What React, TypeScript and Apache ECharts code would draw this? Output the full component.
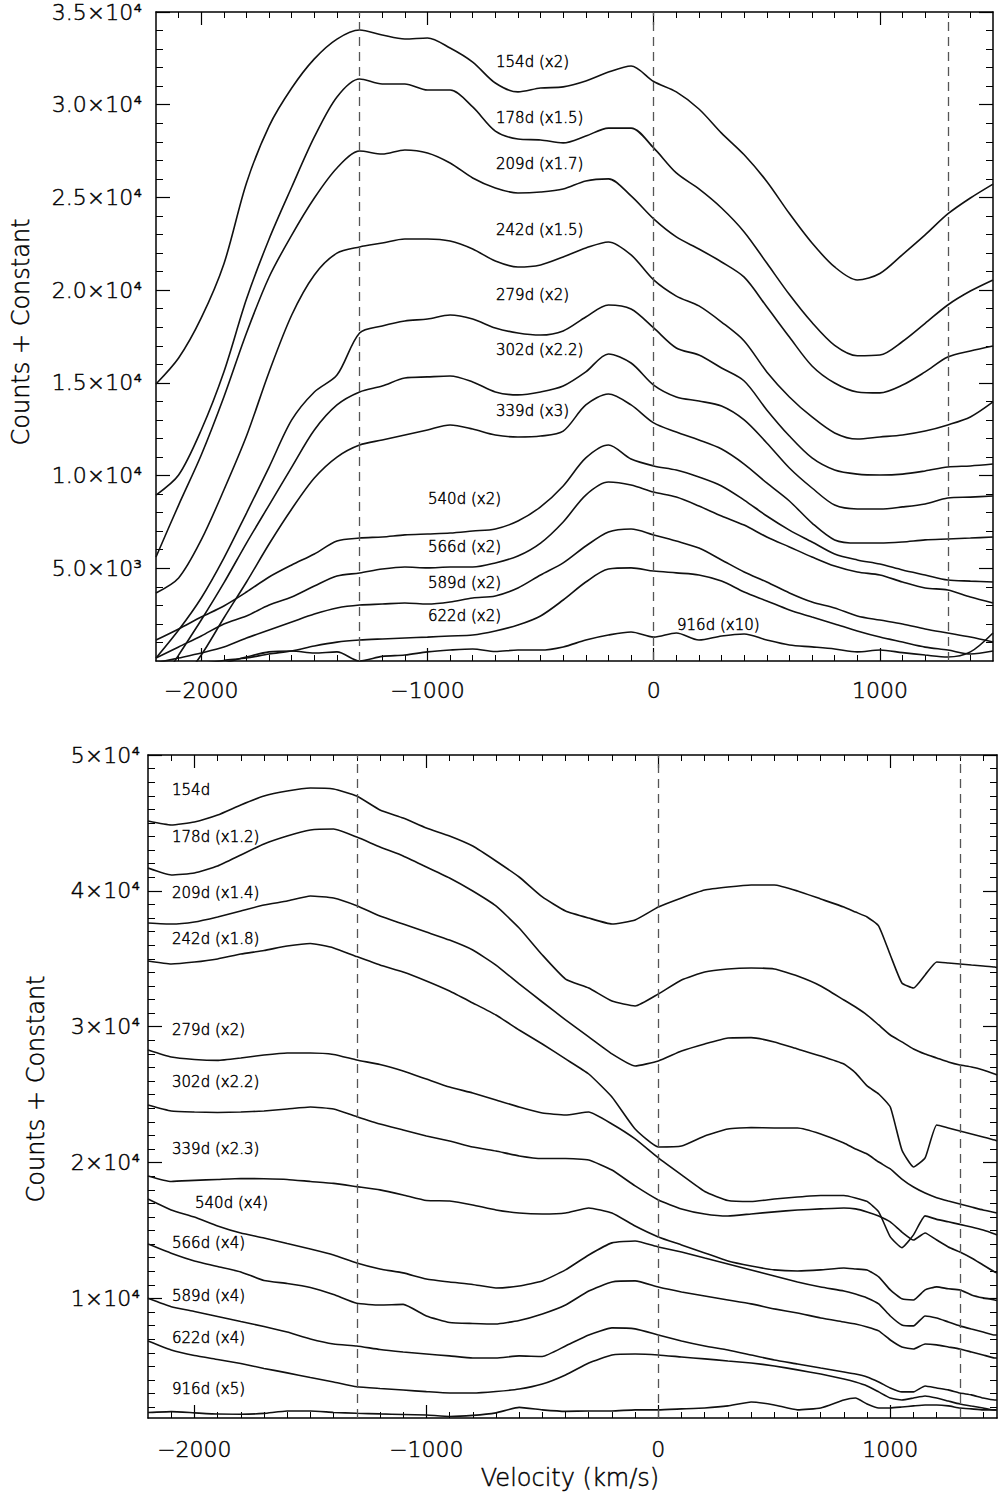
import React, { useEffect, useRef } from "react";
import * as echarts from "echarts";

// ---------- DATA ----------
const velTop = [-2200, -2100, -2000, -1900, -1800, -1700, -1600, -1500, -1400, -1300, -1200, -1100, -1000, -900, -800, -700, -600, -500, -400, -300, -200, -100, 0, 100, 200, 300, 400, 500, 600, 700, 800, 900, 1000, 1100, 1200, 1300, 1400, 1500];

const top154 = [14940, 16340, 18500, 21410, 25780, 28850, 30900, 32470, 33540, 34030, 33760, 33540, 33600, 33060, 32300, 31170, 30690, 30900, 30960, 31280, 31760, 32090, 31250, 30690, 29770, 28470, 27300, 25860, 24130, 22540, 21250, 20550, 20900, 21920, 22980, 24110, 24970, 25720];
const top178 = [8950, 10030, 12460, 15590, 19520, 22760, 25560, 28260, 30420, 31390, 31120, 31120, 30790, 30790, 29880, 28580, 28150, 28100, 27940, 28310, 28740, 28740, 27670, 26320, 25460, 24430, 23140, 21460, 19760, 18250, 17020, 16460, 16500, 17230, 18210, 19200, 19950, 20550];
const top209 = [5610, 8410, 11110, 14240, 17690, 20710, 22970, 24970, 26590, 27500, 27340, 27560, 27400, 26860, 26050, 25510, 25240, 25290, 25450, 25890, 26000, 25080, 23840, 22870, 22220, 21520, 20700, 19100, 17470, 15910, 14990, 14510, 14460, 14880, 15590, 16390, 16720, 16990];
const top242 = [3670, 4480, 6530, 9220, 12130, 15590, 18660, 20820, 22000, 22330, 22540, 22760, 22760, 22650, 22220, 21570, 21250, 21360, 21790, 22270, 22600, 21900, 20550, 19680, 19150, 18280, 17260, 15590, 14240, 13160, 12300, 11970, 12080, 12190, 12400, 12730, 13160, 13970];
const top279 = [160, 1670, 3400, 5550, 7980, 10460, 13000, 14510, 15420, 17690, 18070, 18340, 18440, 18660, 18440, 17960, 17690, 17580, 17800, 18550, 19200, 18980, 17960, 16880, 16500, 15800, 15100, 13540, 12130, 10950, 10300, 10080, 10030, 10080, 10250, 10460, 10520, 10620];
const top302 = [-1560, 320, 2210, 4210, 6360, 8410, 10460, 12460, 13810, 14510, 14830, 15260, 15320, 15370, 15050, 14510, 14350, 14510, 14830, 15590, 16560, 16070, 14880, 14240, 14020, 13750, 13000, 11760, 10410, 9330, 8410, 8200, 8200, 8310, 8470, 8790, 8840, 8900];
const top339 = [-2800, -1290, 320, 2320, 4260, 6310, 8200, 9870, 11000, 11650, 11920, 12190, 12460, 12730, 12510, 12190, 12080, 12130, 12400, 13810, 14400, 13810, 12840, 12350, 11920, 11430, 10620, 9600, 8630, 7440, 6530, 6360, 6360, 6420, 6530, 6580, 6630, 6690];
const top540 = [1130, 1730, 2370, 2970, 3720, 4530, 5180, 5770, 6470, 6630, 6690, 6800, 6850, 6900, 7010, 7120, 7550, 8310, 9440, 10950, 11650, 10890, 10520, 10300, 9920, 9440, 8680, 7820, 7060, 6420, 5770, 5450, 5230, 4910, 4640, 4370, 4310, 4260];
const top566 = [160, 760, 1350, 2000, 2430, 3020, 3450, 4040, 4580, 4750, 4960, 5070, 5020, 5070, 5070, 5290, 5660, 6360, 7500, 8950, 9650, 9490, 9110, 8840, 8360, 7820, 7330, 6690, 6150, 5610, 5120, 4800, 4640, 4260, 3940, 3830, 3450, 3130];
const top589 = [-100, 160, 430, 750, 1240, 1670, 2100, 2530, 2860, 3020, 3070, 3130, 3070, 3180, 3400, 3510, 3940, 4640, 5290, 6200, 6960, 7120, 6800, 6470, 6090, 5450, 4800, 4260, 3670, 3180, 2860, 2430, 2210, 2000, 1730, 1510, 1290, 1020];
const top622 = [-600, -400, -150, 30, 160, 380, 540, 810, 1020, 1130, 1190, 1240, 1290, 1350, 1400, 1620, 1940, 2430, 3290, 4260, 4960, 5020, 4850, 4750, 4640, 4310, 3720, 3240, 2750, 2370, 2000, 1620, 1290, 1020, 750, 590, 380, 540];
const top916 = [-1000, -700, -400, -100, 215, 490, 540, 430, 490, 0, 250, 320, 490, 590, 650, 510, 590, 590, 760, 1130, 1400, 1560, 1290, 1510, 1130, 1350, 1460, 1130, 860, 760, 650, 490, 590, 450, 320, 215, 490, 1510];

const velBottom = [-2200, -2100, -2000, -1900, -1800, -1700, -1600, -1500, -1400, -1300, -1200, -1100, -1000, -900, -800, -700, -600, -500, -400, -300, -200, -100, 0, 100, 200, 300, 400, 500, 600, 700, 800, 850, 900, 950, 1000, 1050, 1100, 1150, 1200, 1250, 1300, 1350, 1400, 1450, 1460];

const bot154 = [45140, 44850, 45070, 45580, 46320, 46980, 47350, 47570, 47500, 46980, 45950, 45360, 44630, 44040, 43300, 42200, 41020, 39550, 38520, 38000, 37560, 37860, 38810, 39480, 40060, 40280, 40430, 40430, 39990, 39400, 38810, 38440, 38080, 37410, 35280, 33220, 32850, 33810, 34760, 34690, 34620, 34540, 34470, 34400, 34360];
const bot178 = [41680, 41170, 41320, 41830, 42640, 43450, 44040, 44480, 44550, 43960, 43230, 42570, 41760, 40950, 39990, 38890, 37270, 35280, 33510, 32850, 31890, 31530, 32410, 33440, 34030, 34250, 34320, 34250, 33730, 33000, 31970, 31450, 30860, 30130, 29390, 28880, 28360, 27990, 27700, 27400, 27180, 27040, 26820, 26520, 26450];
const bot209 = [37640, 37560, 37710, 38080, 38520, 38960, 39250, 39620, 39480, 38910, 38150, 37560, 36970, 36380, 35650, 34540, 33150, 31820, 30500, 29250, 28000, 27110, 27480, 28210, 28730, 29170, 29200, 28880, 28360, 27850, 27260, 26600, 25640, 25050, 24090, 20930, 19680, 20340, 22770, 22550, 22330, 22110, 21890, 21660, 21590];
const bot242 = [34840, 34620, 34760, 34990, 35350, 35610, 35940, 36130, 35800, 35160, 34540, 34030, 33370, 32630, 31750, 30860, 29760, 28730, 27630, 26520, 24830, 22470, 21150, 21220, 21960, 22470, 22580, 22550, 22550, 22110, 21440, 21000, 20630, 20040, 19530, 18790, 18200, 17760, 17420, 17170, 16950, 16730, 16510, 16330, 16290];
const bot279 = [28290, 27770, 27590, 27520, 27700, 27920, 28070, 28070, 27960, 27550, 27220, 26740, 26150, 25560, 25120, 24610, 24090, 23650, 23500, 23720, 22840, 21740, 20340, 19090, 17870, 17210, 17140, 17320, 17470, 17580, 17580, 17400, 17140, 16370, 14530, 13740, 14680, 16080, 15820, 15640, 15450, 15260, 15040, 14750, 14670];
const bot302 = [24240, 23800, 23720, 23690, 23720, 23800, 23940, 24090, 23940, 23380, 22840, 22400, 21960, 21590, 21150, 20850, 20490, 20300, 20300, 20190, 19450, 18280, 17250, 16590, 16220, 16070, 16220, 16370, 16510, 16590, 16660, 16590, 16370, 16070, 15630, 14890, 14300, 14820, 14300, 13790, 13420, 12980, 12460, 11950, 11880];
const bot339 = [19020, 18610, 18690, 18760, 18830, 18810, 18760, 18610, 18470, 18230, 17990, 17620, 17210, 17170, 16880, 16510, 16290, 16220, 16290, 16660, 16290, 15330, 14530, 13940, 13350, 12760, 12390, 12100, 12020, 12100, 12240, 12170, 12100, 11590, 10630, 9970, 9890, 10630, 10850, 10710, 10630, 10260, 10040, 9890, 9850];
const bot540 = [17320, 16510, 15990, 15330, 14810, 14450, 14040, 13640, 13200, 12610, 12170, 11880, 11430, 11210, 11030, 10770, 10920, 11290, 12100, 13200, 14090, 14230, 13790, 13420, 12980, 12540, 12100, 11650, 11210, 10840, 10550, 10330, 10040, 9600, 8710, 8050, 7980, 8710, 8560, 8270, 7980, 7750, 7530, 7310, 7310];
const bot566 = [14000, 13330, 12760, 12350, 11950, 11320, 11100, 10810, 10290, 9640, 9520, 9560, 8710, 8230, 8160, 8120, 8380, 8860, 9520, 10550, 11210, 11290, 10840, 10480, 10180, 9890, 9600, 9230, 8930, 8560, 8270, 8120, 7900, 7610, 6940, 6430, 6280, 6650, 6580, 6430, 6280, 6060, 5840, 5620, 5620];
const bot589 = [10010, 9390, 9040, 8670, 8300, 7940, 7530, 7020, 6650, 6500, 6240, 6060, 5910, 5770, 5620, 5620, 5770, 5730, 6500, 7310, 7830, 7760, 7310, 6870, 6500, 6210, 5840, 5470, 5180, 4880, 4590, 4440, 4220, 3850, 3410, 3120, 3120, 3560, 3410, 3270, 3040, 2900, 2670, 2530, 2530];
const bot622 = [6870, 6210, 5800, 5510, 5210, 4850, 4520, 4180, 3850, 3500, 3370, 3260, 3140, 3040, 3040, 3150, 3330, 3700, 4370, 5250, 5840, 5910, 5840, 5690, 5550, 5400, 5250, 5030, 4740, 4440, 4070, 3850, 3560, 3120, 2670, 2530, 2670, 2820, 2670, 2450, 2230, 2080, 1940, 1790, 1790];
const bot916 = [1600, 1670, 1580, 1490, 1480, 1540, 1720, 1720, 1610, 1550, 1500, 1460, 1420, 1310, 1390, 1580, 1980, 1800, 1690, 1720, 1720, 1800, 1800, 1870, 1940, 2090, 2380, 2160, 1800, 1940, 2530, 2670, 2230, 1940, 1940, 2010, 2090, 2160, 2160, 2090, 1940, 1870, 1800, 1800, 1800];

const topSeries = [top154, top178, top209, top242, top279, top302, top339, top540, top566, top589, top622, top916];
const bottomSeries = [bot154, bot178, bot209, bot242, bot279, bot302, bot339, bot540, bot566, bot589, bot622, bot916];

const topLabels = ["154d (x2)", "178d (x1.5)", "209d (x1.7)", "242d (x1.5)", "279d (x2)", "302d (x2.2)", "339d (x3)", "540d (x2)", "566d (x2)", "589d (x2)", "622d (x2)", "916d (x10)"];
const bottomLabels = ["154d", "178d (x1.2)", "209d (x1.4)", "242d (x1.8)", "279d (x2)", "302d (x2.2)", "339d (x2.3)", "540d (x4)", "566d (x4)", "589d (x4)", "622d (x4)", "916d (x5)"];

const xMajorTicks = [-2000, -1000, 0, 1000];
const topYMajorTicks = [5000, 10000, 15000, 20000, 25000, 30000, 35000];
const bottomYMajorTicks = [10000, 20000, 30000, 40000, 50000];
const dashedVelocities = [-1300, 0, 1300];

// ---------- LAYOUT ----------
const FONT = "'DejaVu Sans', 'Liberation Sans', sans-serif";
const INK = "#000000";
const WEIGHT = 200;
const TEXT_STROKE = 0.45;

const topLabelPos = [[496, 62], [496, 118], [496, 164], [496, 230], [496, 295], [496, 350], [496, 411], [428, 499], [428, 547], [428, 583], [428, 616], [677, 625]];
const bottomLabelPos = [[172, 790], [172, 837], [172, 893], [172, 939], [172, 1030], [172, 1082], [172, 1149], [195, 1203], [172, 1243], [172, 1296], [172, 1338], [172, 1389]];

const SUP: Record<number, string> = { 3: "\u00B3", 4: "\u2074" };

function sciLabel(v: number, decimals: number) {
  const e = Math.floor(Math.log10(v) + 1e-9);
  const m = v / Math.pow(10, e);
  return m.toFixed(decimals) + "\u00D710" + SUP[e];
}

function range(a: number, b: number, step: number) {
  const out: number[] = [];
  for (let v = a; v <= b + 1e-9; v += step) out.push(v);
  return out;
}

const labelText = {
  color: INK, fontSize: 22, fontFamily: FONT, fontWeight: WEIGHT,
  textBorderColor: INK, textBorderWidth: TEXT_STROKE,
};

function xAxes(gridIndex: number, min: number, max: number, labelMargin: number) {
  const minor = range(-2100, max - 1, 100);
  const base = { type: "value", gridIndex, min, max, splitLine: { show: false } };
  const line = { show: true, onZero: false, lineStyle: { color: "#000", width: 1.5 } };
  return [
    {
      ...base, position: "bottom", axisLine: line,
      axisTick: { show: true, inside: true, length: 13, customValues: xMajorTicks, lineStyle: { color: "#000", width: 1.2 } },
      axisLabel: {
        show: true, customValues: xMajorTicks, margin: labelMargin, ...labelText,
        formatter: (v: number) => (v < 0 ? "\u2212" + Math.abs(v) : String(v)),
      },
    },
    {
      ...base, position: "bottom", axisLine: { show: false, onZero: false },
      axisTick: { show: true, inside: true, length: 6, customValues: minor, lineStyle: { color: "#000", width: 1 } },
      axisLabel: { show: false },
    },
    {
      ...base, position: "top", axisLine: line,
      axisTick: { show: true, inside: true, length: 13, customValues: xMajorTicks, lineStyle: { color: "#000", width: 1.2 } },
      axisLabel: { show: false },
    },
    {
      ...base, position: "top", axisLine: { show: false, onZero: false },
      axisTick: { show: true, inside: true, length: 6, customValues: minor, lineStyle: { color: "#000", width: 1 } },
      axisLabel: { show: false },
    },
  ];
}

function yAxes(gridIndex: number, min: number, max: number, major: number[], decimals: number, labelMargin: number) {
  const minor = range(Math.ceil((min + 1) / 1000) * 1000, max - 1, 1000);
  const base = { type: "value", gridIndex, min, max, splitLine: { show: false } };
  const line = { show: true, onZero: false, lineStyle: { color: "#000", width: 1.5 } };
  return [
    {
      ...base, position: "left", axisLine: line,
      axisTick: { show: true, inside: true, length: 14, customValues: major, lineStyle: { color: "#000", width: 1.2 } },
      axisLabel: {
        show: true, customValues: major, margin: labelMargin, ...labelText,
        formatter: (v: number) => sciLabel(v, decimals),
      },
    },
    {
      ...base, position: "left", axisLine: { show: false, onZero: false },
      axisTick: { show: true, inside: true, length: 7, customValues: minor, lineStyle: { color: "#000", width: 1 } },
      axisLabel: { show: false },
    },
    {
      ...base, position: "right", axisLine: line,
      axisTick: { show: true, inside: true, length: 14, customValues: major, lineStyle: { color: "#000", width: 1.2 } },
      axisLabel: { show: false },
    },
    {
      ...base, position: "right", axisLine: { show: false, onZero: false },
      axisTick: { show: true, inside: true, length: 7, customValues: minor, lineStyle: { color: "#000", width: 1 } },
      axisLabel: { show: false },
    },
  ];
}

function curveSeries(vel: number[], sets: number[][], axisIndex: number, smooth: number) {
  return sets.map((vals, i) => ({
    type: "line",
    xAxisIndex: axisIndex,
    yAxisIndex: axisIndex,
    data: vel.map((v, j) => [v, vals[j]]),
    showSymbol: false,
    symbol: "none",
    smooth,
    clip: true,
    silent: true,
    lineStyle: { color: "#111", width: 1.6 },
    z: 3,
    markLine: i === 0 ? {
      silent: true,
      symbol: ["none", "none"],
      label: { show: false },
      lineStyle: { color: "#555", type: [9, 6], width: 1.3 },
      data: dashedVelocities.map((v) => ({ xAxis: v })),
    } : undefined,
  }));
}

function textEl(text: string, x: number, y: number, size: number, center = false, rotation = 0) {
  return {
    type: "text", x, y, rotation, silent: true,
    style: {
      text, fill: INK, font: `${WEIGHT} ${size}px ${FONT}`,
      stroke: INK, lineWidth: TEXT_STROKE,
      textAlign: center ? "center" : "left", align: center ? "center" : "left",
      textVerticalAlign: "middle", verticalAlign: "middle",
    },
  };
}

function buildOption() {
  const graphic: any[] = [];
  topLabels.forEach((t, i) => graphic.push(textEl(t, topLabelPos[i][0], topLabelPos[i][1], 15)));
  bottomLabels.forEach((t, i) => graphic.push(textEl(t, bottomLabelPos[i][0], bottomLabelPos[i][1], 15)));
  graphic.push(textEl("Counts + Constant", 21, 332, 24, true, Math.PI / 2));
  graphic.push(textEl("Counts + Constant", 36, 1089, 24, true, Math.PI / 2));
  graphic.push(textEl("Velocity (km/s)", 570, 1478, 24, true));

  return {
    animation: false,
    backgroundColor: "#ffffff",
    grid: [
      { left: 156, top: 12, width: 837, height: 649 },
      { left: 148, top: 755, width: 849, height: 663 },
    ],
    xAxis: [...xAxes(0, -2200, 1500, 18), ...xAxes(1, -2200, 1460, 20)],
    yAxis: [
      ...yAxes(0, 0, 35000, topYMajorTicks, 1, 14),
      ...yAxes(1, 1200, 50000, bottomYMajorTicks, 0, 8),
    ],
    series: [...curveSeries(velTop, topSeries, 0, 0.3), ...curveSeries(velBottom, bottomSeries, 4, 0.15)],
    graphic,
  };
}

export default function App() {
  const ref = useRef<HTMLDivElement>(null);
  useEffect(() => {
    if (!ref.current) return;
    const chart = echarts.init(ref.current, null, { renderer: "svg" });
    chart.setOption(buildOption() as any);
    return () => chart.dispose();
  }, []);
  return (
    <div
      ref={ref}
      style={{ position: "absolute", left: 0, top: 0, width: 1000, height: 1496, background: "#fff" }}
    />
  );
}
